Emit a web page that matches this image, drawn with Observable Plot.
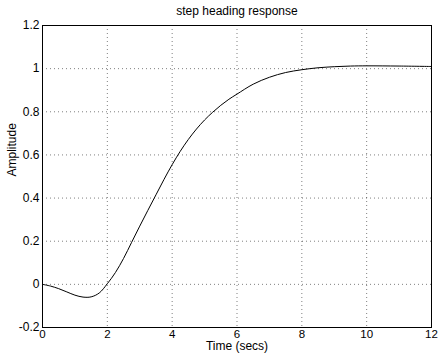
<!DOCTYPE html>
<html>
<head>
<meta charset="utf-8">
<script src="https://cdn.jsdelivr.net/npm/d3@7"></script>
<script src="https://cdn.jsdelivr.net/npm/@observablehq/plot@0.6"></script>
<style>
  html, body { margin: 0; padding: 0; background: #fff; }
</style>
</head>
<body>
<div id="chart"></div>
<script>
const titleText = "step heading response";
const xLabel = "Time (secs)";
const yLabel = "Amplitude";
const xTicks = [0, 2, 4, 6, 8, 10, 12];
const yTicks = [-0.2, 0, 0.2, 0.4, 0.6, 0.8, 1, 1.2];
const time = [0, 0.25, 0.5, 0.75, 1, 1.25, 1.5, 1.75, 2, 2.25, 2.5, 2.75, 3, 3.25, 3.5, 3.75, 4, 4.25, 4.5, 4.75, 5, 5.25, 5.5, 5.75, 6, 6.5, 7, 7.5, 8, 8.5, 9, 9.5, 10, 11, 12];
const amplitude = [0, -0.008, -0.020, -0.035, -0.050, -0.059, -0.058, -0.040, 0.003, 0.055, 0.120, 0.195, 0.270, 0.343, 0.415, 0.487, 0.555, 0.617, 0.672, 0.720, 0.762, 0.798, 0.830, 0.858, 0.882, 0.928, 0.960, 0.982, 0.995, 1.004, 1.009, 1.012, 1.013, 1.012, 1.010];

const data = time.map((t, i) => ({t, a: amplitude[i]}));
const fmt = d => String(+d.toFixed(1));

const chart = Plot.plot({
  width: 438,
  height: 357,
  marginLeft: 42,
  marginRight: 7,
  marginTop: 25,
  marginBottom: 30,
  style: {fontFamily: "'Liberation Sans', Arial, sans-serif", fontSize: "12px", color: "#000", background: "#fff"},
  x: {domain: [0, 12]},
  y: {domain: [-0.2, 1.2]},
  marks: [
    Plot.gridX(xTicks, {stroke: "#000", strokeOpacity: 0.5, strokeDasharray: "1,3"}),
    Plot.gridY(yTicks, {stroke: "#000", strokeOpacity: 0.5, strokeDasharray: "1,3"}),
    Plot.frame({stroke: "#000", strokeWidth: 1}),
    Plot.axisX({ticks: xTicks, tickSize: 0, tickPadding: 2, tickFormat: fmt, label: null, fontSize: 11.5}),
    Plot.axisY({ticks: yTicks, tickSize: 0, tickPadding: 3, tickFormat: fmt, label: null, fontSize: 12}),
    Plot.line(data, {x: "t", y: "a", stroke: "#000", strokeWidth: 1, curve: "catmull-rom"}),
    Plot.text([titleText], {frameAnchor: "top", dy: -19, fontSize: 12, fill: "#000"}),
    Plot.text([xLabel], {frameAnchor: "bottom", lineAnchor: "top", dy: 14, fontSize: 12, fill: "#000"}),
    Plot.text([yLabel], {frameAnchor: "left", dx: -30, rotate: -90, fontSize: 12, fill: "#000"})
  ]
});
document.getElementById("chart").appendChild(chart);
</script>
</body>
</html>
